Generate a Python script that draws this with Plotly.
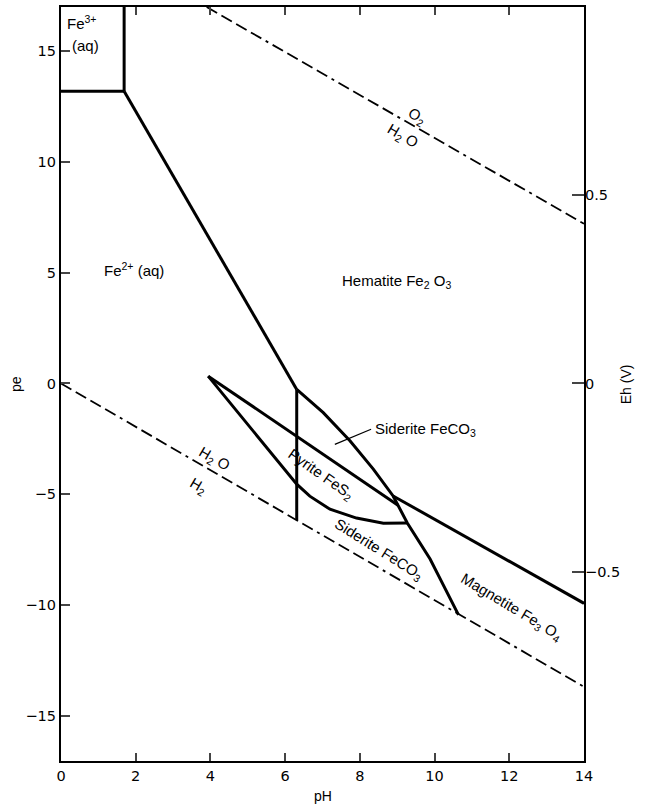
import plotly.graph_objects as go

# ---- data (pH, pe) ----
fe3_fe2_ph = [0, 1.69]
fe3_fe2_pe = [13.2, 13.2]

fe3_hem_ph = [1.69, 1.69]
fe3_hem_pe = [13.2, 17.0]

hem_fe2_ph = [1.69, 6.31]
hem_fe2_pe = [13.2, -0.27]

fe2_sid_ph = [6.31, 6.31]
fe2_sid_pe = [-0.27, -6.17]

hem_sid_ph = [6.31, 7.02, 7.74, 8.36, 8.89, 9.02, 9.27, 9.88, 10.64]
hem_sid_pe = [-0.27, -1.32, -2.60, -3.87, -5.08, -5.5, -6.3, -7.93, -10.45]

pyr_up_ph = [3.94, 9.02]
pyr_up_pe = [0.33, -5.5]

pyr_lo_ph = [3.94, 6.31, 6.66, 7.20, 7.91, 8.63, 9.27]
pyr_lo_pe = [0.33, -4.55, -5.09, -5.68, -6.08, -6.31, -6.3]

hem_mag_ph = [8.89, 14]
hem_mag_pe = [-5.08, -9.93]

o2_ph = [3.9, 14]
o2_pe = [17.0, 7.21]

h2_ph = [0, 14]
h2_pe = [0, -13.7]

leader_ph = [7.33, 8.3]
leader_pe = [-2.75, -2.07]

x_ticks = [0, 2, 4, 6, 8, 10, 12, 14]
pe_ticks = [15, 10, 5, 0, -5, -10, -15]
eh_ticks = [0.5, 0, -0.5]
eh_per_pe = 0.0587
pe_range = [-17.05, 17.0]
ph_range = [0, 14]

FONT = "Liberation Sans, Arial, sans-serif"
TICKFONT = "DejaVu Sans, sans-serif"
fig = go.Figure()

solid = [
    (fe3_fe2_ph, fe3_fe2_pe), (fe3_hem_ph, fe3_hem_pe), (hem_fe2_ph, hem_fe2_pe),
    (fe2_sid_ph, fe2_sid_pe), (hem_sid_ph, hem_sid_pe), (pyr_up_ph, pyr_up_pe),
    (pyr_lo_ph, pyr_lo_pe), (hem_mag_ph, hem_mag_pe),
]
for xs, ys in solid:
    fig.add_trace(go.Scatter(x=xs, y=ys, mode="lines", line=dict(color="black", width=3),
                             showlegend=False, hoverinfo="skip"))
for xs, ys in [(o2_ph, o2_pe), (h2_ph, h2_pe)]:
    fig.add_trace(go.Scatter(x=xs, y=ys, mode="lines",
                             line=dict(color="black", width=1.8,
                                       dash="12px,5px,12px,5px,12px,5px,12px,5px,3px,5px"),
                             showlegend=False, hoverinfo="skip"))
fig.add_trace(go.Scatter(x=leader_ph, y=leader_pe, mode="lines", line=dict(color="black", width=1.2),
                         showlegend=False, hoverinfo="skip"))
# Eh axis carrier
fig.add_trace(go.Scatter(x=[None], y=[None], yaxis="y2", showlegend=False, hoverinfo="skip"))

def ann(x, y, text, angle=0, size=15, xanchor="center"):
    fig.add_annotation(x=x, y=y, text=text, showarrow=False, textangle=angle,
                       xanchor=xanchor, yanchor="middle", font=dict(family=FONT, size=size, color="black"))

ann(0.56, 16.3, "Fe<sup>3+</sup>")
ann(0.66, 15.25, "(aq)")
ann(1.95, 5.14, "Fe<sup>2+</sup> (aq)")
ann(8.97, 4.6, "Hematite Fe<sub>2</sub> O<sub>3</sub>")
ann(8.35, -2.07, "Siderite FeCO<sub>3</sub>", xanchor="left")
ann(6.95, -4.1, "Pyrite FeS<sub>2</sub>", angle=35)
ann(8.49, -7.52, "Siderite FeCO<sub>3</sub>", angle=32)
ann(12.07, -10.1, "Magnetite Fe<sub>3</sub> O<sub>4</sub>", angle=31)
ann(9.52, 12.04, "O<sub>2</sub>", angle=30)
ann(9.15, 11.14, "H<sub>2</sub> O", angle=30)
ann(4.12, -3.42, "H<sub>2</sub> O", angle=30)
ann(3.69, -4.64, "H<sub>2</sub>", angle=30)

fig.add_annotation(x=-0.105, y=0.5, xref="paper", yref="paper", text="pe", showarrow=False,
                   textangle=-90, font=dict(family=FONT, size=14, color="black"))
fig.add_annotation(x=1.1, y=0.5, xref="paper", yref="paper", text="Eh (V)", showarrow=False,
                   textangle=-90, font=dict(family=FONT, size=14, color="black"))
fig.add_annotation(x=0.5, y=-0.047, xref="paper", yref="paper", text="pH", showarrow=False,
                   yanchor="middle", font=dict(family=FONT, size=14, color="black"))

fig.update_layout(
    width=645, height=812,
    margin=dict(l=61, r=61, t=5, b=51),
    paper_bgcolor="white", plot_bgcolor="white",
    font=dict(family=TICKFONT, size=14.5, color="black"),
    xaxis=dict(range=ph_range, tickvals=x_ticks, ticks="inside", ticklen=8, tickwidth=2,
               showline=True, linewidth=2.2, linecolor="black", mirror="ticks",
               showgrid=False, zeroline=False),
    yaxis=dict(range=pe_range, tickvals=pe_ticks, ticks="inside", ticklen=9, tickwidth=2,
               showline=True, linewidth=2.2, linecolor="black", mirror=True,
               showgrid=False, zeroline=False),
    yaxis2=dict(range=[pe_range[0] * eh_per_pe, pe_range[1] * eh_per_pe], tickvals=eh_ticks,
                overlaying="y", side="right", ticks="inside", ticklen=12, tickwidth=2,
                showline=False, showgrid=False, zeroline=False),
)

fig.write_html("out.html", config={"displayModeBar": False},
               post_script="document.body.style.margin='0px';")
